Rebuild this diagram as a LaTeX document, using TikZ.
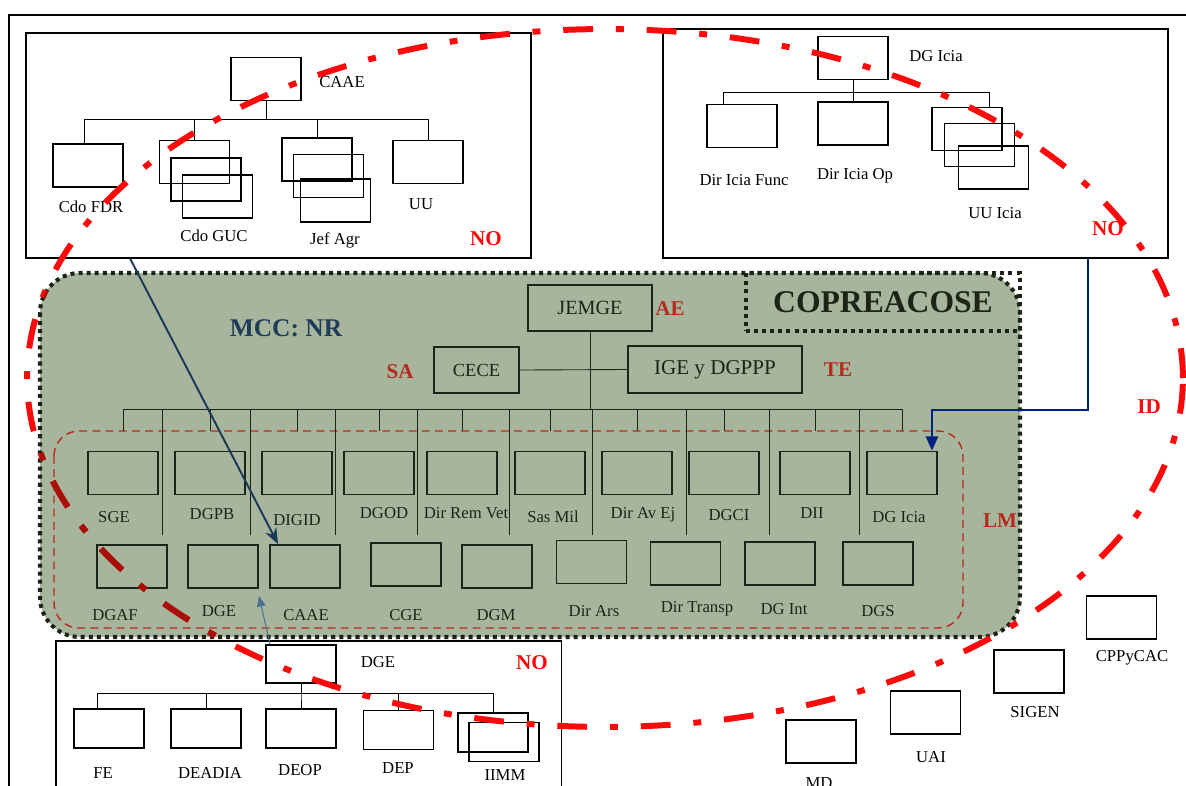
\documentclass[tikz,border=0pt]{standalone}
\usepackage{fontspec}
\setmainfont{Liberation Serif}
\usetikzlibrary{arrows.meta}

\definecolor{sage}{RGB}{168,181,157}
\definecolor{ink}{RGB}{27,36,22}
\definecolor{lmred}{RGB}{181,42,30}
\definecolor{idred}{RGB}{250,10,10}
\definecolor{iddark}{RGB}{166,16,8}
\definecolor{navyline}{RGB}{28,56,88}
\definecolor{royal}{RGB}{0,34,128}
\definecolor{steel}{RGB}{76,114,146}
\definecolor{mccblue}{RGB}{32,60,88}

\tikzset{
  idloop/.style={line width=3.4pt, dash pattern=on 17pt off 13pt on 4.5pt off 13pt},
  dotframe/.style={draw=ink, line width=2.3pt, dash pattern=on 2.3pt off 2.3pt},
}

\begin{document}
\begin{tikzpicture}[x=0.02cm, y=-0.02cm,
    unit/.style={draw, line width=1.1pt, minimum width=1.4cm, minimum height=0.86cm, inner sep=0pt},
    bunit/.style={unit, minimum height=0.78cm},
    gunit/.style={unit, draw=ink},
    lbl/.style={font=\fontsize{9.5}{11}\selectfont, inner sep=1pt},
    glbl/.style={lbl, text=ink},
    tag/.style={font=\fontsize{12}{14}\selectfont\bfseries, inner sep=1pt},
    frame/.style={draw, line width=0.9pt, inner sep=0pt},
    link/.style={line width=0.5pt},
  ]
  \useasboundingbox (0,0) rectangle (1186,785);
  \fill[white] (0,0) rectangle (1186,785);
  \draw[line width=1pt] (1190,15) -- (9,15) -- (9,790);

  % NO: CAAE
  \node[frame, minimum width=10.1cm, minimum height=4.5cm] (caaefr) at (278.5,145.5) {};
  \node[unit] (caae) at (266,79) {};          \node[lbl] (caaet) at (342,82) {CAAE};
  \node[unit] (cdofdr) at (88,165.5) {};      \node[lbl] (cdofdrt) at (91,207) {Cdo FDR};
  \node[unit] (guc1) at (194.5,162) {};
  \node[unit] (guc2) at (206,179.5) {};
  \node[unit] (guc3) at (217.5,196.5) {};     \node[lbl] (guct) at (214,236) {Cdo GUC};
  \node[unit] (agr1) at (317,159.5) {};
  \node[unit] (agr2) at (328.5,176) {};
  \node[unit] (agr3) at (335.5,200.5) {};     \node[lbl] (agrt) at (335,240) {Jef Agr};
  \node[unit] (uu) at (428,162) {};           \node[lbl] (uut) at (421,204) {UU};
  \node[tag, idred] (no1) at (486,239) {NO};
  \foreach \c in {cdofdr.100,guc1.north,agr1.north,uu.north}
    \draw[link] (caae.south) -- ++(0,18) -| (\c);

  % NO: DG Icia
  \node[frame, minimum width=10.1cm, minimum height=4.58cm] (icfr) at (915.5,143.5) {};
  \node[unit] (dgicia) at (853,58) {};        \node[lbl] (dgiciat) at (936,56) {DG Icia};
  \node[unit] (icfunc) at (742,126) {};       \node[lbl] (icfunct) at (744,180) {Dir Icia Func};
  \node[unit] (icop) at (853,123.5) {};       \node[lbl] (icopt) at (855,176) {Dir Icia Op};
  \node[unit] (uuic1) at (967,129) {};
  \node[unit] (uuic2) at (979.5,145) {};
  \node[unit] (uuic3) at (993.5,167.5) {};    \node[lbl] (uuict) at (995,213) {UU Icia};
  \node[tag, idred] (no2) at (1108,229) {NO};
  \foreach \c in {icfunc.130,icop.north,uuic1.45}
    \draw[link] (dgicia.south) -- ++(0,12) -| (\c);

  % MCC: NR
  \fill[sage, rounded corners=0.8cm] (40,273) rectangle (1020,637);
  \node[font=\fontsize{14.5}{16}\selectfont\bfseries, text=mccblue] (mcc) at (286,328) {MCC: NR};
  \node[gunit, minimum width=2.48cm, minimum height=0.92cm, font=\fontsize{11.5}{13}\selectfont, text=ink] (jemge) at (590,308) {JEMGE};
  \node[gunit, minimum width=1.7cm, minimum height=0.92cm, font=\fontsize{10.5}{12}\selectfont, text=ink] (cece) at (476.5,370) {CECE};
  \node[gunit, minimum width=3.48cm, minimum height=0.94cm, font=\fontsize{12}{14}\selectfont, text=ink] (ige) at (715,369.5) {IGE y DGPPP};
  \node[tag, lmred] (ae) at (670,309) {AE};
  \node[tag, lmred] (sa) at (400,372) {SA};
  \node[tag, lmred] (te) at (838,370) {TE};
  \node[tag, lmred] (lm) at (1000,521) {LM};
  \coordinate (hub) at (590,409);
  \draw[link, ink] (jemge.south) -- (hub);
  \draw[link, ink] (cece.east) -- (ige.west);
  \draw[lmred, line width=0.8pt, dash pattern=on 4.5pt off 3pt, rounded corners=0.5cm] (54,431) rectangle (963,628);

  \node[gunit] (sge) at (123,473) {};         \node[glbl] (sget) at (114,517) {SGE};
  \node[gunit] (dgpb) at (210,473) {};        \node[glbl] (dgpbt) at (212,514) {DGPB};
  \node[gunit] (digid) at (297,473) {};       \node[glbl] (digidt) at (297,520) {DIGID};
  \node[gunit] (dgod) at (379,473) {};        \node[glbl] (dgodt) at (384,513) {DGOD};
  \node[gunit] (remvet) at (462,473) {};      \node[glbl] (remvett) at (466,513) {Dir Rem Vet};
  \node[gunit] (sasmil) at (550,473) {};      \node[glbl] (sasmilt) at (553,517) {Sas Mil};
  \node[gunit] (avej) at (637,473) {};        \node[glbl] (avejt) at (643,515) {Dir Av Ej};
  \node[gunit] (dgci) at (724,473) {};        \node[glbl] (dgcit) at (729,515) {DGCI};
  \node[gunit] (dii) at (815,473) {};         \node[glbl] (diit) at (812,513) {DII};
  \node[gunit] (dgic) at (902,473) {};        \node[glbl] (dgict) at (899,517) {DG Icia};

  \node[gunit] (dgaf) at (132,566.5) {};      \node[glbl] (dgaft) at (115,615) {DGAF};
  \node[gunit] (gdge) at (223,566.5) {};      \node[glbl] (gdget) at (219,611) {DGE};
  \node[gunit] (gcaae) at (305,566.5) {};     \node[glbl] (gcaaet) at (306,615) {CAAE};
  \node[gunit] (cge) at (406,564.5) {};       \node[glbl] (cget) at (406,615) {CGE};
  \node[gunit] (dgm) at (497,566.5) {};       \node[glbl] (dgmt) at (496,615) {DGM};
  \node[gunit] (dirars) at (591.5,562) {};    \node[glbl] (dirarst) at (594,611) {Dir Ars};
  \node[gunit] (transp) at (685.5,563.5) {};  \node[glbl] (transpt) at (697,609) {Dir Transp};
  \node[gunit] (dgint) at (780,563.5) {};     \node[glbl] (dgintt) at (784,609) {DG Int};
  \node[gunit] (dgs) at (878,563.5) {};       \node[glbl] (dgst) at (878,611) {DGS};

  \draw[link, ink] (sge.north |- hub) -- (dgic.north |- hub);
  \foreach \b in {sge,dgpb,digid,dgod,remvet,sasmil,avej,dgci,dii,dgic}
    \draw[link, ink] (\b.north |- hub) -- ++(0,22);
  \foreach \x in {162,250,335,417,509,592,686,769,859}
    \draw[link, ink] (\x,409) -- (\x,535);

  \draw[dotframe, rounded corners=0.8cm] (40,273) rectangle (1020,637);
  \node[dotframe, minimum width=5.48cm, minimum height=1.16cm, inner sep=0pt, font=\fontsize{18}{20}\selectfont\bfseries, text=ink] (copre) at (883,302) {COPREACOSE};

  % NO: DGE
  \node[frame, minimum width=10.12cm, minimum height=3.2cm, anchor=north west] (dgefr) at (55,640) {};
  \node[bunit, minimum height=0.76cm] (bdge) at (301,664) {};  \node[lbl] (bdget) at (378,662) {DGE};
  \node[bunit] (fe) at (109,728.5) {};        \node[lbl] (fet) at (103,773) {FE};
  \node[bunit] (deadia) at (206,728.5) {};    \node[lbl] (deadiat) at (210,773) {DEADIA};
  \node[bunit] (deop) at (301,728.5) {};      \node[lbl] (deopt) at (300,770) {DEOP};
  \node[bunit] (dep) at (398.5,730) {};       \node[lbl] (dept) at (398,768) {DEP};
  \node[bunit] (iimm1) at (493,732.5) {};
  \node[bunit] (iimm2) at (504,742) {};       \node[lbl] (iimmt) at (505,775) {IIMM};
  \node[tag, idred] (no3) at (532,663) {NO};
  \foreach \c in {fe.120,deadia.north,deop.north,dep.north,iimm1.north}
    \draw[link] (bdge.south) -- ++(0,9) -| (\c);

  % free units
  \node[unit] (cppycac) at (1121.5,617.5) {};  \node[lbl] (cppycact) at (1132,658) {CPPyCAC};
  \node[unit] (sigen) at (1029,671.5) {};      \node[lbl] (sigent) at (1035,712) {SIGEN};
  \node[unit] (uai) at (925.5,712.5) {};       \node[lbl] (uait) at (931,757) {UAI};
  \node[unit] (md) at (821,741.5) {};          \node[lbl] (mdt) at (819,783) {MD};

  % arrows
  \draw[navyline, line width=1.1pt, -{Stealth[length=9pt,width=7pt]}] ([xshift=2.1cm]caaefr.south west) -- ([xshift=0.18cm]gcaae.north west);
  \draw[royal, line width=0.9pt, -{Triangle[length=8pt,width=7pt]}] ([xshift=8.52cm]icfr.south west) -- ++(0,151) -| ([xshift=-0.12cm]dgic.north east);
  \draw[steel, line width=0.6pt, -{Triangle[length=6pt,width=5pt]}] ([xshift=0.1cm]bdge.north west) -- ([yshift=-0.14cm]gdge.south east);

  % ID
  \draw[idred, idloop] (605,378) ellipse [x radius=11.56cm, y radius=6.98cm];
  \begin{scope}
    \clip[rounded corners=0.8cm] (40,273) rectangle (1020,637);
    \draw[iddark, idloop] (605,378) ellipse [x radius=11.56cm, y radius=6.98cm];
  \end{scope}
  \node[tag, idred] (id) at (1149,407) {ID};
\end{tikzpicture}
\end{document}
